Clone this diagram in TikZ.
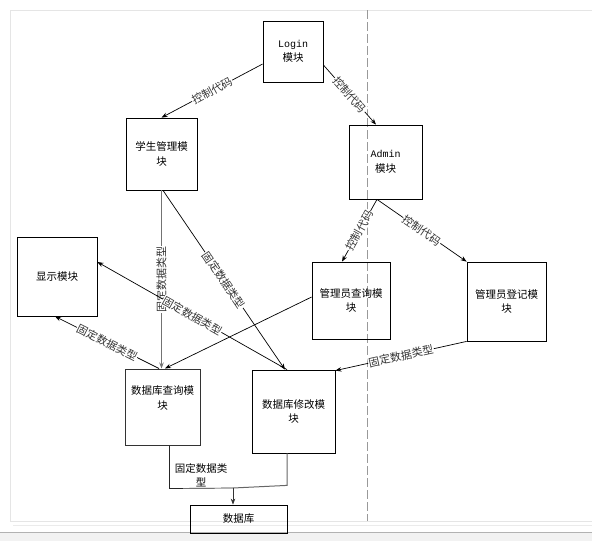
\documentclass[tikz,border=0pt]{standalone}
\usepackage{fontspec}
\setmainfont{Liberation Serif}
\newfontfamily\cjk{Noto Sans CJK SC}
\newfontfamily\mono{Liberation Mono}
\usetikzlibrary{arrows.meta,calc}
\begin{document}
\begin{tikzpicture}[x=1pt,y=-1pt,
  box/.style={draw, line width=0.8pt, inner sep=0pt, align=center,
    font=\cjk\fontsize{10.5}{14.5}\selectfont},
  conn/.style={line width=0.7pt, -{Stealth[length=6pt,width=4.5pt]}},
  lbl/.style={font=\cjk\fontsize{11}{12}\selectfont, fill=white,
    inner sep=0.5pt, sloped, pos=0.5, text=black!80}]
\useasboundingbox (0,0) rectangle (592,541);
% page frame
\fill[black!5] (0,532) rectangle (592,541);
\draw[black!30] (0,532) -- (592,532);
\draw[black!10] (10,521) -- (10,10) -- (592,10);
\draw[black!10] (10,521) -- (592,521);
\draw[black!8] (13,525) -- (592,525);
\draw[black!40, dash pattern=on 9pt off 3pt] (367,10) -- (367,521);
% boxes
\node[box, minimum width=60pt, minimum height=61pt] (login) at (293,51.5)
  {{\mono\fontsize{10}{12}\selectfont Login}\\模块};
\node[box, minimum width=71pt, minimum height=72pt] (stu) at (161.5,154) {学生管理模\\块};
\node[box, minimum width=73pt, minimum height=74pt] (admin) at (385.5,162)
  {{\mono\fontsize{10}{12}\selectfont Admin}\\模块};
\node[box, minimum width=80pt, minimum height=79pt] (disp) at (57,276.5) {显示模块};
\node[box, minimum width=78pt, minimum height=77pt] (aq) at (351,300.5) {管理员查询模\\块};
\node[box, minimum width=79pt, minimum height=79pt] (ar) at (506.5,301.5) {管理员登记模\\块};
\node[box, draw=black!80, line width=1pt, minimum width=75pt, minimum height=76pt] (dbq) at (162.5,407)
  {数据库查询模\\块\\[4pt]};
\node[box, minimum width=83pt, minimum height=83pt] (dbm) at (293.5,411.5) {数据库修改模\\块};
\node[box, minimum width=97pt, minimum height=28pt] (db) at (238.5,519) {数据库};
% connectors
\draw[conn] ([yshift=-12.5pt]login.west) -- (stu.north) node[lbl] {控制代码};
\draw[conn] ([yshift=-13.5pt]login.east) -- ([xshift=-9.5pt]admin.north) node[lbl] {控制代码};
\draw[conn] ([xshift=-8.5pt]admin.south) -- ([xshift=-9pt]aq.north) node[lbl] {控制代码};
\draw[conn] ([xshift=-8.5pt]admin.south) -- (ar.north west) node[lbl] {控制代码};
\draw[conn, draw=black!55, line width=1.3pt] (stu.south) -- (stu.south |- dbq.north)
  node[pos=0.5, rotate=90, font=\cjk\fontsize{11}{12}\selectfont, fill=white, inner sep=0.5pt, text=black!80] {固定数据类型};
\draw[conn] ([xshift=1.5pt]stu.south) -- ([xshift=-8.5pt]dbm.north) node[lbl] {固定数据类型};
\draw[conn] ([xshift=-6.5pt]dbm.north) -- ([yshift=14.5pt]disp.east) node[lbl] {固定数据类型};
\draw[conn] ([yshift=3.5pt]aq.west) -- ([xshift=2.5pt]dbq.north);
\draw[conn] ([xshift=-3.5pt]dbq.north) -- ([xshift=-2pt]disp.south) node[lbl] {固定数据类型};
\draw[conn] (ar.south west) -- ([yshift=-1pt]dbm.north east) node[lbl] {固定数据类型};
% bottom merge
\coordinate (j) at (233,488);
\draw[line width=0.7pt, draw=black!85] ([xshift=7pt]dbq.south) -- ++(0,43) -- (j);
\draw[line width=1pt, draw=black!60] ([xshift=-6.5pt]dbm.south) -- ++(0,32) -- (j);
\draw[conn, draw=black!80] (j) -- (j |- db.north);
\node[font=\cjk\fontsize{10.5}{14}\selectfont, align=center, inner sep=0pt] (bl) at (201,475) {固定数据类\\型};
\end{tikzpicture}
\end{document}
